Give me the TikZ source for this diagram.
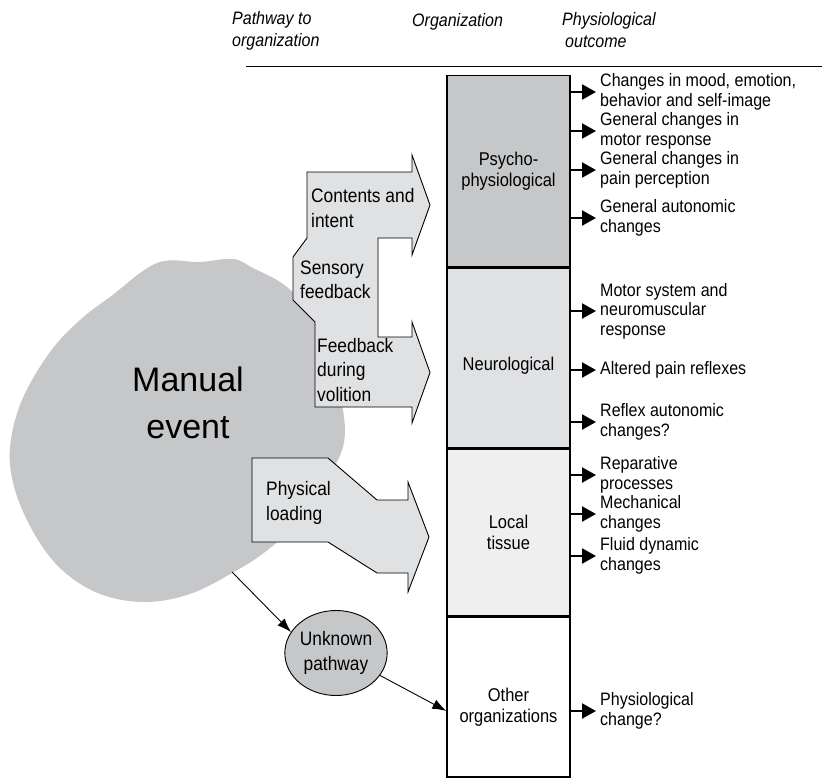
\documentclass[tikz,border=0pt]{standalone}
\usepackage{fontspec}
\setmainfont{Liberation Sans}
\newfontfamily\narrowsf{Liberation Sans}[FakeStretch=0.89]
\usetikzlibrary{positioning,arrows.meta,shapes.geometric}
\definecolor{cDark}{HTML}{C6C7C9}
\definecolor{cMid}{HTML}{E0E1E3}
\definecolor{cLight}{HTML}{EFEFEF}
\tikzset{
  orgbox/.style={draw, line width=1.4pt, minimum width=123pt, inner sep=0pt, align=center, font=\narrowsf\fontsize{18.5}{21}\selectfont},
  outtext/.style={anchor=west, align=left, inner xsep=4pt, inner ysep=0pt, font=\narrowsf\fontsize{18}{19.5}\selectfont},
  outarrow/.style={line width=2.2pt, -{Triangle[length=14pt,width=15pt]}},
  pathshape/.style={draw, fill=cMid, line width=0.9pt, line join=miter},
  pathtext/.style={anchor=west, align=left, inner sep=0pt, font=\narrowsf\fontsize{19.5}{24.5}\selectfont},
  headtext/.style={anchor=west, align=left, inner sep=0pt, font=\narrowsf\itshape\fontsize{18}{22}\selectfont},
  thinarrow/.style={line width=0.9pt, -{Latex[length=14pt,width=10pt]}},
}
\begin{document}
\begin{tikzpicture}[x=1pt, y=-1pt]
		\useasboundingbox (0,0) rectangle (822,777);
		% headings
		\node[headtext] (hPath) at (232,31) {Pathway to\\organization};
		\node[headtext] (hOrg) at (412,22) {Organization};
		\node[headtext] (hOut) at (562,30) {Physiological\\\hspace{3pt}outcome};
		\draw [line width=1pt] (246,66) -- (822,66);
		% manual event
		\fill [cDark] plot[smooth cycle, tension=0.6] coordinates {(110,297) (157,263) (200,262) (233,259) (253,268) (287,287) (315,320) (333,367) (345,430) (333,470) (300,520) (265,552) (232,573) (190,594) (145,602) (100,594) (62,570) (35,535) (15,490) (10,448) (22,400) (50,352) (80,320)};
		\node[font=\fontsize{34}{47}\selectfont, align=center] (manual) at (188,403) {Manual\\event};
		\coordinate (blobexit) at (232,572);
		% pathways
		\draw [pathshape] (307,172) -- (412,172) -- (412,155) -- (430,205) -- (412,255) -- (412,238) -- (378,238) -- (378,337) -- (412,337) -- (412,322) -- (430,372.5) -- (412,423) -- (412,407) -- (315,407) -- (315,322) -- (293,300) -- (293,257) -- (307,238) -- cycle;
		\draw [pathshape] (252,458) -- (328,458) -- (377,500) -- (408,500) -- (408,482) -- (429,537) -- (408,592) -- (408,573) -- (377,573) -- (328,542) -- (252,542) -- cycle;
		\node[pathtext] (contents) at (311,208) {Contents and\\intent};
		\node[pathtext] (sensory) at (300,280) {Sensory\\feedback};
		\node[pathtext] (volition) at (317,370) {Feedback\\during\\volition};
		\node[pathtext] (loading) at (266,503) {Physical\\loading};
		\node[ellipse, draw, fill=cDark, line width=0.9pt, minimum width=97pt, minimum height=85pt, inner sep=0pt, align=center, font=\narrowsf\fontsize{19.5}{24.5}\selectfont] (unk) at (336,653) {Unknown\\pathway};
		% organization column
		\node[orgbox, fill=cDark, minimum height=191pt, anchor=north] (psy) at (508.5,75) {Psycho-\\physiological};
		\node[orgbox, fill=cMid, minimum height=180pt, below=0pt of psy] (neuro) {\raisebox{-12pt}[0pt][0pt]{Neurological}};
		\node[orgbox, fill=cLight, minimum height=166pt, below=0pt of neuro] (local) {Local\\tissue};
		\node[orgbox, fill=white, minimum height=160pt, below=0pt of local] (other) {\raisebox{-15pt}[0pt][0pt]{\begin{tabular}{@{}c@{}}Other\\organizations\end{tabular}}};
		% outcomes
		\node[outtext] (o1) at (596,92) {Changes in mood, emotion,\\behavior and self-image};
		\node[outtext] (o2) at (596,131) {General changes in\\motor response};
		\node[outtext] (o3) at (596,170) {General changes in\\pain perception};
		\node[outtext] (o4) at (596,218) {General autonomic\\changes};
		\node[outtext] (o5) at (596,311) {Motor system and\\neuromuscular\\response};
		\node[outtext] (o6) at (596,370) {Altered pain reflexes};
		\node[outtext] (o7) at (596,422) {Reflex autonomic\\changes?};
		\node[outtext] (o8) at (596,475) {Reparative\\processes};
		\node[outtext] (o9) at (596,514) {Mechanical\\changes};
		\node[outtext] (o10) at (596,556) {Fluid dynamic\\changes};
		\node[outtext] (o11) at (596,711) {Physiological\\change?};
		\draw [outarrow] (psy.east |- o1.west) -- (o1.west);
		\draw [outarrow] (psy.east |- o2.west) -- (o2.west);
		\draw [outarrow] (psy.east |- o3.west) -- (o3.west);
		\draw [outarrow] (psy.east |- o4.west) -- (o4.west);
		\draw [outarrow] (neuro.east |- o5.west) -- (o5.west);
		\draw [outarrow] (neuro.east |- o6.west) -- (o6.west);
		\draw [outarrow] (neuro.east |- o7.west) -- (o7.west);
		\draw [outarrow] (local.east |- o8.west) -- (o8.west);
		\draw [outarrow] (local.east |- o9.west) -- (o9.west);
		\draw [outarrow] (local.east |- o10.west) -- (o10.west);
		\draw [outarrow] (other.east |- o11.west) -- (o11.west);
		% unknown pathway
		\draw [thinarrow] (blobexit) -- (unk.155);
		\draw [thinarrow] (unk.-27) -- ([yshift=-14pt]other.west);
\end{tikzpicture}
\end{document}
